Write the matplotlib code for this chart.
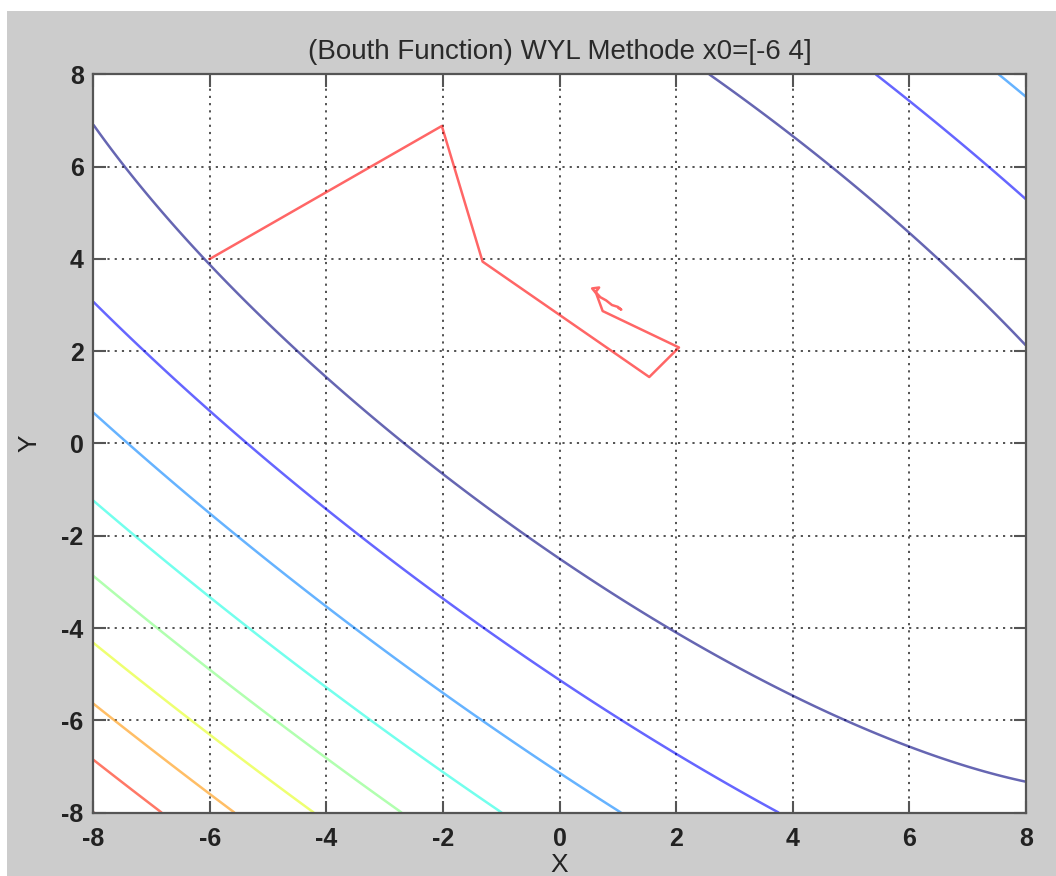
import numpy as np
import matplotlib
matplotlib.use("Agg")
from matplotlib import pyplot as plt
from matplotlib.patches import Rectangle

# Booth function contour grid and levels
grid_x = np.arange(-8, 8.01, 0.1)
grid_y = np.arange(-8, 8.01, 0.1)
levels = [200, 400, 600, 800, 1000, 1200, 1400, 1600, 1800]

# search path (start x0 = [-6 4])
path_x = [-6.0, -2.02, -1.32, 1.54, 2.05, 0.74, 0.63, 0.56, 0.68, 0.62,
          0.70, 0.80, 0.90, 1.00, 1.06, 1.02]
path_y = [4.0, 6.88, 3.94, 1.44, 2.08, 2.87, 3.25, 3.36, 3.38, 3.28,
          3.17, 3.10, 3.00, 2.96, 2.90, 2.93]

ticks = [-8, -6, -4, -2, 0, 2, 4, 6, 8]

plt.rcParams['font.family'] = ['Liberation Sans', 'DejaVu Sans']
plt.rcParams['axes.unicode_minus'] = False

X, Y = np.meshgrid(grid_x, grid_y)
Z = (X + 2 * Y - 7) ** 2 + (2 * X + Y - 5) ** 2

fig = plt.figure(figsize=(10.56, 8.76), dpi=100, facecolor="white")
fig.patches.append(Rectangle((7 / 1056, 0), 1, 1 - 11 / 876,
                             transform=fig.transFigure, facecolor="#cccccc",
                             edgecolor="none", zorder=-10))

ax = fig.add_axes([0.0884, 0.0723, 0.9713 - 0.0884, 0.9152 - 0.0723])
ax.contour(X, Y, Z, levels=levels, cmap="jet", vmin=200, vmax=1800,
           linewidths=1.8, alpha=0.6)
ax.plot(path_x, path_y, color="red", linewidth=1.8, alpha=0.6)

ax.set_xlim(-8, 8)
ax.set_ylim(-8, 8)
ax.set_xticks(ticks)
ax.set_yticks(ticks)
ax.tick_params(direction="in", length=9, width=1.5, color="#555555",
               top=True, right=True, labelsize=18, labelcolor="#222222")
ax.tick_params(axis="x", pad=10)
ax.tick_params(axis="y", pad=7)
for lbl in ax.get_xticklabels() + ax.get_yticklabels():
    lbl.set_fontweight("bold")
for s in ax.spines.values():
    s.set_color("#555555")
    s.set_linewidth(1.6)
ax.grid(True, color="#444444", linestyle=(0, (1.2, 2.8)), linewidth=1.3)

ax.set_title("(Bouth Function) WYL Methode x0=[-6 4]", fontsize=20,
             color="#2a2a2a", pad=11)
ax.set_xlabel("X", fontsize=19, labelpad=2, color="#222222")
ax.set_ylabel("Y", fontsize=19, labelpad=14, color="#222222")

fig.savefig("out.png", dpi=100, facecolor=fig.get_facecolor())
